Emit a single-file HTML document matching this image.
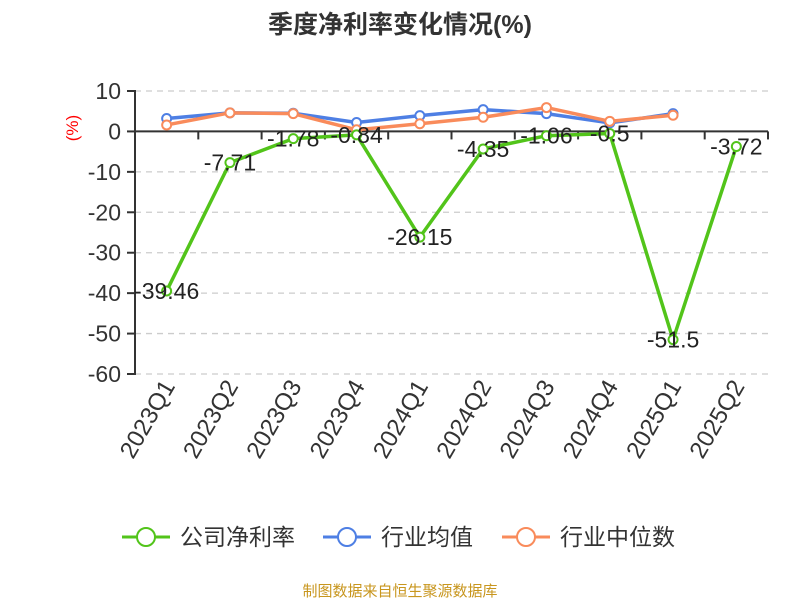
<!DOCTYPE html>
<html><head><meta charset="utf-8"><style>
body{margin:0;background:#fff;width:800px;height:600px;overflow:hidden;font-family:"Liberation Sans","Noto Sans CJK SC",sans-serif}
</style></head><body>
<svg id="c" width="800" height="600" xmlns="http://www.w3.org/2000/svg" font-family="Liberation Sans, Noto Sans CJK SC, sans-serif">
<text x="400" y="33" text-anchor="middle" font-size="25" font-weight="bold" fill="#333">季度净利率变化情况(%)</text>
<text x="78" y="128" text-anchor="middle" font-size="17" fill="#f00" transform="rotate(-90 78 128)">(%)</text>
<g id="grid"></g><g id="axes"></g><g id="series"></g>
<g font-size="23" fill="#333">
<g><line x1="122" y1="537" x2="170" y2="537" stroke="#52c41a" stroke-width="3"/><circle cx="146" cy="537" r="9" fill="#fff" stroke="#52c41a" stroke-width="2"/><text x="180" y="545">公司净利率</text></g>
<g><line x1="323" y1="537" x2="371" y2="537" stroke="#4e7fe4" stroke-width="3"/><circle cx="347" cy="537" r="9" fill="#fff" stroke="#4e7fe4" stroke-width="2"/><text x="381" y="545">行业均值</text></g>
<g><line x1="502" y1="537" x2="550" y2="537" stroke="#f98b5b" stroke-width="3"/><circle cx="526" cy="537" r="9" fill="#fff" stroke="#f98b5b" stroke-width="2"/><text x="560" y="545">行业中位数</text></g>
</g>
<text x="400" y="596" text-anchor="middle" font-size="15" fill="#c8961e">制图数据来自恒生聚源数据库</text>
</svg>
<script>
const categories=["2023Q1","2023Q2","2023Q3","2023Q4","2024Q1","2024Q2","2024Q3","2024Q4","2025Q1","2025Q2"];
const company=[-39.46,-7.71,-1.78,-0.84,-26.15,-4.35,-1.06,-0.5,-51.5,-3.72];
const industryAvg=[3.2,4.6,4.5,2.2,3.9,5.4,4.4,2.1,4.4];
const industryMedian=[1.6,4.6,4.4,0.4,1.9,3.5,5.9,2.5,4.0];
const yTicks=[10,0,-10,-20,-30,-40,-50,-60];
const NS="http://www.w3.org/2000/svg";
const L=135,R=768,yTop=91,yBot=374,yMax=10,yMin=-60;
const bw=(R-L)/categories.length;
const x=i=>L+bw*(i+0.5);
const y=v=>yTop+(yMax-v)/(yMax-yMin)*(yBot-yTop);
function mk(t,a,p){const e=document.createElementNS(NS,t);for(const k in a)e.setAttribute(k,a[k]);p.appendChild(e);return e;}
const grid=document.getElementById('grid'),axes=document.getElementById('axes'),ser=document.getElementById('series');
yTicks.forEach(v=>{
 if(v!==0){const g=mk('line',{x1:L,x2:R,y1:y(v),y2:y(v),stroke:'#ccc','stroke-dasharray':'6,5','stroke-width':1.3},grid);
 
 }
 const tk=mk('line',{x1:L-8,x2:L,y1:y(v),y2:y(v),stroke:'#333','stroke-width':2},axes);
 
 
 const t=mk('text',{x:L-14,y:y(v)+8,'text-anchor':'end','font-size':23,fill:'#333'},axes);t.textContent=v;
 
 
});
const ya=mk('line',{x1:L,x2:L,y1:yTop-1,y2:yBot+1,stroke:'#333','stroke-width':2},axes);


const xa=mk('line',{x1:L,x2:R,y1:y(0),y2:y(0),stroke:'#333','stroke-width':2},axes);


categories.forEach((c,i)=>{
 const tk=mk('line',{x1:L+bw*(i+1),x2:L+bw*(i+1),y1:y(0),y2:y(0)+8,stroke:'#333','stroke-width':2},axes);
 
 
 const t=mk('text',{x:x(i)+9,y:386,'text-anchor':'end','font-size':24,fill:'#333',transform:`rotate(-60 ${x(i)+9} 386)`},axes);t.textContent=c;
 
 
});
function series(d,col,name,labels){
 const g=mk('g',{},ser);
 
 
 const pl=mk('polyline',{points:d.map((v,i)=>x(i)+','+y(v)).join(' '),fill:'none',stroke:col,'stroke-width':3.5,'stroke-linejoin':'round'},g);
 
 
 d.forEach((v,i)=>{const p=mk('circle',{cx:x(i),cy:y(v),r:4.5,fill:'#fff',stroke:col,'stroke-width':2},g);
 
 
 if(labels){const t=mk('text',{x:x(i),y:y(v)+8,'text-anchor':'middle','font-size':23,fill:'#222'},g);t.textContent=v;
 
 }});
}
series(industryAvg,'#4e7fe4','industry-avg-series',false);
series(industryMedian,'#f98b5b','industry-median-series',false);
series(company,'#52c41a','company-series',true);
</script>
</body></html>
